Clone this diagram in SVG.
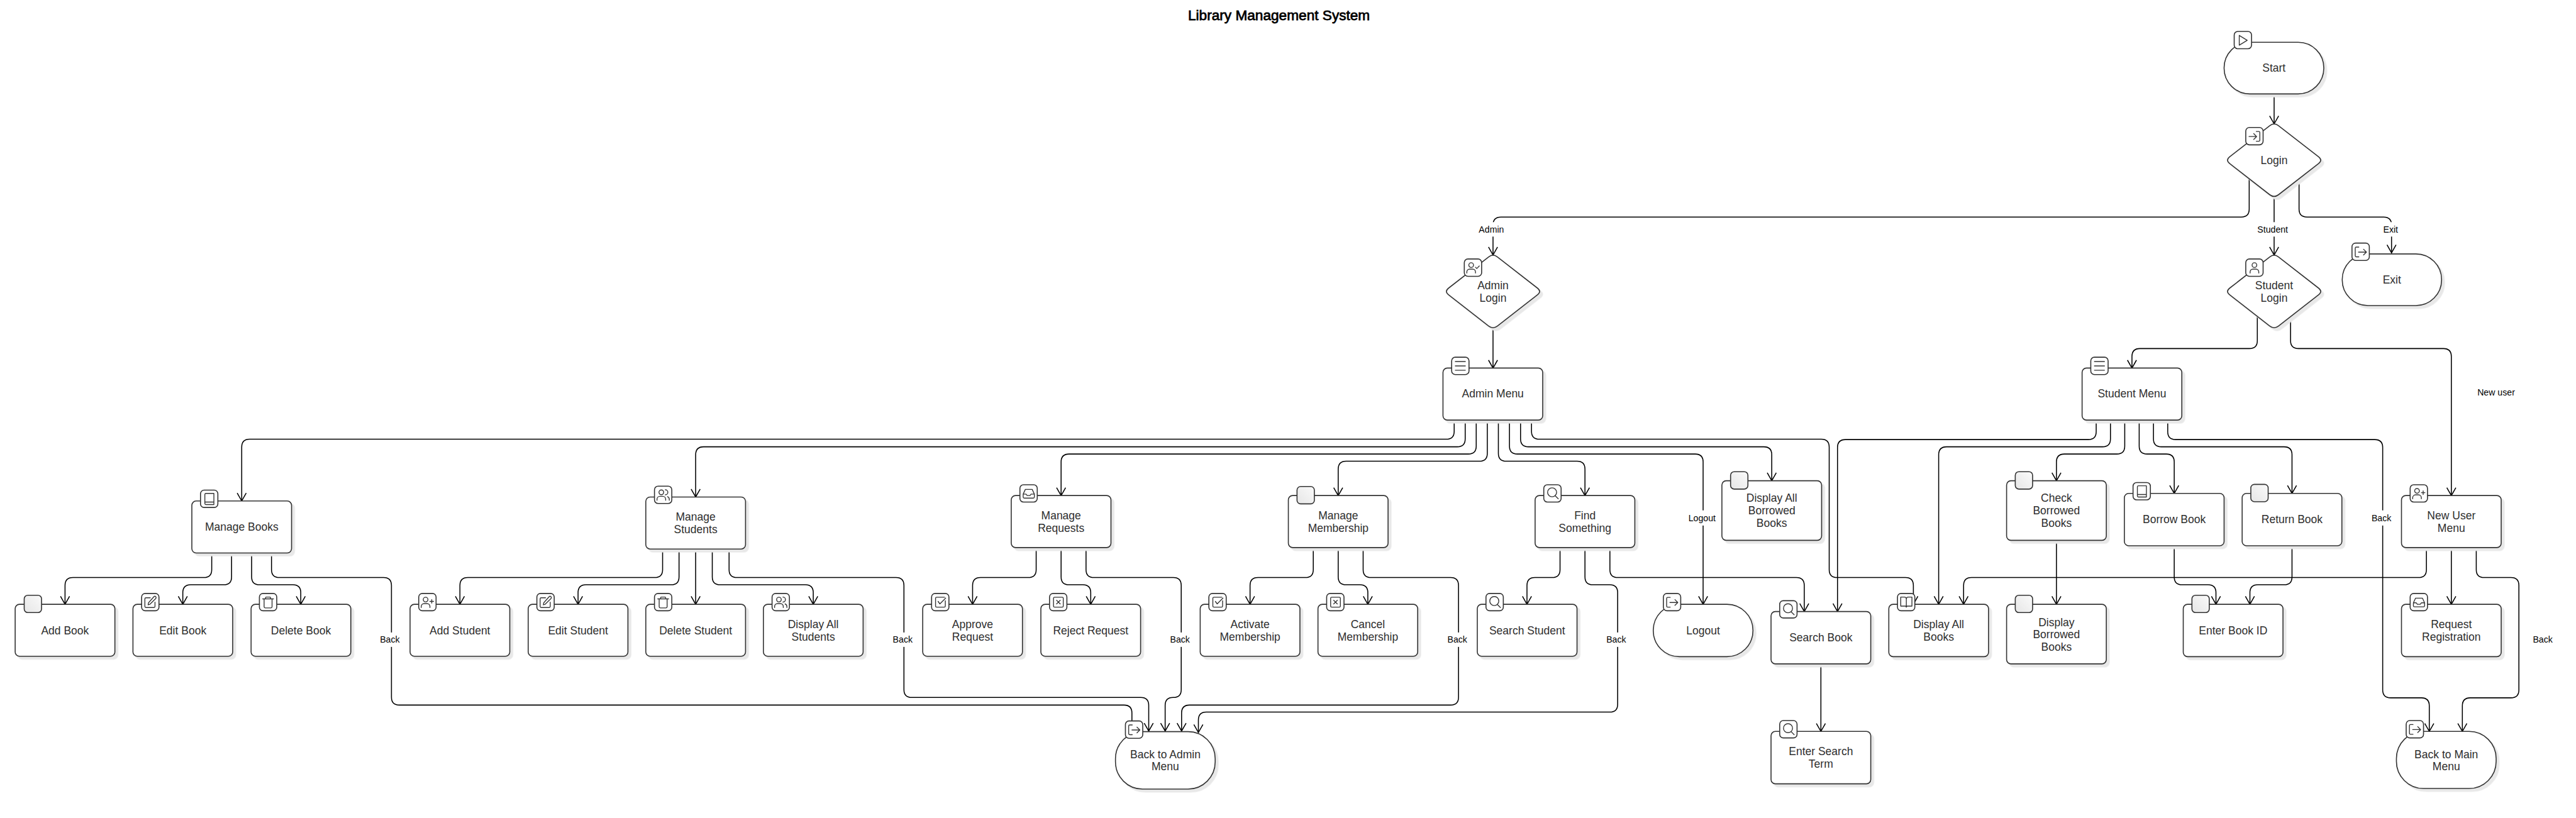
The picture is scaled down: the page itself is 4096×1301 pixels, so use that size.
<svg xmlns="http://www.w3.org/2000/svg" width="4096" height="1301" viewBox="0 0 4096 1301">
<style>
.bg{fill:#fff}
.n{fill:#fff;stroke:#333;stroke-width:2.8;filter:url(#sh)}
.t{font-family:"Liberation Sans",Arial,sans-serif;font-size:30.5px;fill:#2e2e2e;text-anchor:middle}
.l{font-family:"Liberation Sans",Arial,sans-serif;font-size:24.6px;fill:#000;text-anchor:middle}
.title{font-family:"Liberation Sans",Arial,sans-serif;font-size:39.4px;fill:#000;stroke:#000;stroke-width:1.4;text-anchor:middle}
.c path{fill:none;stroke:#000;stroke-width:2.7;marker-end:url(#ah)}
.ic{fill:none;stroke:#333;stroke-width:2.4;stroke-linecap:round;stroke-linejoin:round}
.bx{fill:#fff;stroke:#333;stroke-width:2.8}
.bk{fill:url(#gr);stroke:#333;stroke-width:2.8}
</style>
<defs>
<filter id="sh" x="-5%" y="-5%" width="115%" height="120%" color-interpolation-filters="sRGB"><feDropShadow dx="8" dy="8" stdDeviation="0" flood-color="#e8e8e8" flood-opacity="1"/></filter>
<marker id="ah" markerUnits="userSpaceOnUse" viewBox="-25 -16 28 32" refX="0" refY="0" markerWidth="28" markerHeight="32" orient="auto"><path d="M-22 -12.5 L0 0 L-22 12.5" fill="none" stroke="#000" stroke-width="2.7" style="marker-end:none"/></marker>
<linearGradient id="gr" x1="1" y1="0" x2="0" y2="1"><stop offset="0" stop-color="#fafafa"/><stop offset="1" stop-color="#e6e6e6"/></linearGradient>
<path id="dia" d="M-12 -95.7 Q0 -105 12 -95.7 L123 -9.3 Q135 0 123 9.3 L12 95.7 Q0 105 -12 95.7 L-123 9.3 Q-135 0 -123 -9.3 Z"/>
<rect id="bx" class="bx" width="48" height="48" rx="10"/>
<g id="i-blank"><rect class="bk" width="48" height="48" rx="10"/></g>
<g id="i-play"><use href="#bx"/><path class="ic" d="M14 11 L36 24.5 L14 38 Z"/></g>
<g id="i-login"><use href="#bx"/><path class="ic" d="M29 11 h7 a3 3 0 0 1 3 3 v21 a3 3 0 0 1 -3 3 h-7 M9 25 H30 M22 17 l8 8 -8 8"/></g>
<g id="i-logout"><use href="#bx"/><path class="ic" d="M19 11 h-7 a3 3 0 0 0 -3 3 v21 a3 3 0 0 0 3 3 h7 M18 25 H40 M32 17 l8 8 -8 8"/></g>
<g id="i-user"><use href="#bx"/><circle class="ic" cx="24" cy="17" r="6.5"/><path class="ic" d="M12 39 v-3 a8 8 0 0 1 8 -8 h8 a8 8 0 0 1 8 8 v3"/></g>
<g id="i-userck"><use href="#bx"/><circle class="ic" cx="19" cy="17" r="6.5"/><path class="ic" d="M7 39 v-3 a8 8 0 0 1 8 -8 h8 a8 8 0 0 1 8 8 v3 M31 23 l3.5 3.5 7 -7"/></g>
<g id="i-userpl"><use href="#bx"/><circle class="ic" cx="19" cy="17" r="6.5"/><path class="ic" d="M7 39 v-3 a8 8 0 0 1 8 -8 h8 a8 8 0 0 1 8 8 v3 M36 17 v10 M31 22 h10"/></g>
<g id="i-users"><use href="#bx"/><circle class="ic" cx="19" cy="17" r="6.5"/><path class="ic" d="M7 39 v-3 a8 8 0 0 1 8 -8 h8 a8 8 0 0 1 8 8 v3 M30 10 a7 7 0 0 1 0 14 M41 39 v-3 a8 8 0 0 0 -5 -7"/></g>
<g id="i-edit"><use href="#bx"/><path class="ic" d="M24 12 H12 a3 3 0 0 0 -3 3 V36 a3 3 0 0 0 3 3 H34 a3 3 0 0 0 3 -3 V24 M34 9 a3.5 3.5 0 0 1 5 5 L23 30 L18 31.5 L19 26 Z"/></g>
<g id="i-trash"><use href="#bx"/><path class="ic" d="M9 15 H39 M17 15 V12 a2 2 0 0 1 2 -2 h10 a2 2 0 0 1 2 2 v3 M13 15 V37 a3 3 0 0 0 3 3 h16 a3 3 0 0 0 3 -3 V15"/></g>
<g id="i-book"><use href="#bx"/><path class="ic" d="M15 9 H37 V40 H15 a3 3 0 0 1 -3 -3 V12 a3 3 0 0 1 3 -3 Z M12 33 H37"/></g>
<g id="i-open"><use href="#bx"/><path class="ic" d="M9 10 H19 a5.5 5.5 0 0 1 5.5 5.5 V38 l-2 -3 H9 Z M40 10 H30 a5.5 5.5 0 0 0 -5.5 5.5 V38 l2 -3 H40 Z"/></g>
<g id="i-menu"><use href="#bx"/><path class="ic" d="M10 12 H38 M10 24 H38 M10 36 H38"/></g>
<g id="i-search"><use href="#bx"/><circle class="ic" cx="23" cy="21" r="12.5"/><path class="ic" d="M32 31 L40 39"/></g>
<g id="i-inbox"><use href="#bx"/><path class="ic" d="M9 26 H17 l3 4 h8 l3 -4 H40 M15 13 H34 L40 26 V34 a3 3 0 0 1 -3 3 H12 a3 3 0 0 1 -3 -3 V26 Z"/></g>
<g id="i-check"><use href="#bx"/><path class="ic" d="M36 10.5 H14 a3 3 0 0 0 -3 3 V35 a3 3 0 0 0 3 3 H35 a3 3 0 0 0 3 -3 V20 M18 22 l5 7 L39 13"/></g>
<g id="i-x"><use href="#bx"/><path class="ic" d="M14 10.5 H35 a3 3 0 0 1 3 3 V35 a3 3 0 0 1 -3 3 H14 a3 3 0 0 1 -3 -3 V13.5 a3 3 0 0 1 3 -3 Z M19.5 19 l10 10 M29.5 19 l-10 10"/></g>
</defs>
<g transform="scale(0.57447)">
<text class="title" x="3540" y="56">Library Management System</text>
<g id="connectors" class="c">
<path d="M6294.5 260 V343"/>
<path d="M6225.5 480 V579 q0 22 -22 22 H4154.5 q-22 0 -22 22 V706"/>
<path d="M6294.5 500 V706"/>
<path d="M6363.5 480 V579 q0 22 22 22 H6597.5 q22 0 22 22 V700"/>
<path d="M6248 840 V943 q0 22 -22 22 H5923 q-22 0 -22 22 V1019"/>
<path d="M6340 840 V943 q0 22 22 22 H6763 q22 0 22 22 V1372"/>
<path d="M4132.5 850 V1019"/>
<path d="M4025 1100 V1194 q0 22 -22 22 H691 q-22 0 -22 22 V1387"/>
<path d="M4055.5 1100 V1215 q0 22 -22 22 H1947.5 q-22 0 -22 22 V1376"/>
<path d="M4086 1100 V1235 q0 22 -22 22 H2959 q-22 0 -22 22 V1372"/>
<path d="M4116.7 1100 V1255 q0 22 -22 22 H3726 q-22 0 -22 22 V1372"/>
<path d="M4147.3 1100 V1255 q0 22 22 22 H4365 q22 0 22 22 V1372"/>
<path d="M4178 1100 V1235 q0 22 22 22 H4692 q22 0 22 22 V1673"/>
<path d="M4208.7 1100 V1215 q0 22 22 22 H4882 q22 0 22 22 V1331"/>
<path d="M4239 1100 V1194 q0 22 22 22 H5041 q22 0 22 22 V1577 q0 22 22 22 H5274 q22 0 22 22 V1673"/>
<path d="M586 1500 V1577 q0 22 -22 22 H202 q-22 0 -22 22 V1673"/>
<path d="M641 1500 V1597 q0 22 -22 22 H528 q-22 0 -22 22 V1673"/>
<path d="M696.5 1500 V1597 q0 22 22 22 H810.5 q22 0 22 22 V1673"/>
<path d="M751.5 1500 V1577 q0 22 22 22 H1061.5 q22 0 22 22 V1930 q0 22 22 22 H3111 q22 0 22 22 V2024"/>
<path d="M1834 1500 V1577 q0 22 -22 22 H1295 q-22 0 -22 22 V1673"/>
<path d="M1879.5 1500 V1597 q0 22 -22 22 H1622 q-22 0 -22 22 V1673"/>
<path d="M1925.5 1500 V1673"/>
<path d="M1971.5 1500 V1597 q0 22 22 22 H2229 q22 0 22 22 V1673"/>
<path d="M2018 1500 V1577 q0 22 22 22 H2480 q22 0 22 22 V1909 q0 22 22 22 H3157.5 q22 0 22 22 V2024"/>
<path d="M2868 1500 V1577 q0 22 -22 22 H2714 q-22 0 -22 22 V1673"/>
<path d="M2937 1500 V1597 q0 22 22 22 H2997 q22 0 22 22 V1673"/>
<path d="M3006 1500 V1577 q0 22 22 22 H3247.5 q22 0 22 22 V1909 q0 22 -22 22 H3247 q-22 0 -22 22 V2024"/>
<path d="M3635 1500 V1577 q0 22 -22 22 H3482 q-22 0 -22 22 V1673"/>
<path d="M3704 1500 V1597 q0 22 22 22 H3764 q22 0 22 22 V1673"/>
<path d="M3773 1500 V1577 q0 22 22 22 H4015 q22 0 22 22 V1930 q0 22 -22 22 H3292.5 q-22 0 -22 22 V2024"/>
<path d="M4318 1500 V1577 q0 22 -22 22 H4248.5 q-22 0 -22 22 V1673"/>
<path d="M4387 1500 V1597 q0 22 22 22 H4455.5 q22 0 22 22 V1949.5 q0 22 -22 22 H3339 q-22 0 -22 22 V2028"/>
<path d="M4456 1500 V1577 q0 22 22 22 H4972 q22 0 22 22 V1693"/>
<path d="M5040 1830 V2025"/>
<path d="M5802 1100 V1195 q0 22 -22 22 H5108 q-22 0 -22 22 V1693"/>
<path d="M5841.5 1100 V1215 q0 22 -22 22 H5388 q-22 0 -22 22 V1673"/>
<path d="M5881 1100 V1235 q0 22 -22 22 H5714 q-22 0 -22 22 V1331"/>
<path d="M5921 1100 V1235 q0 22 22 22 H5996 q22 0 22 22 V1366"/>
<path d="M5960.5 1100 V1215 q0 22 22 22 H6322 q22 0 22 22 V1366"/>
<path d="M6000 1100 V1195 q0 22 22 22 H6573 q22 0 22 22 V1910 q0 22 22 22 H6702 q22 0 22 22 V2025"/>
<path d="M6716 1500 V1577 q0 22 -22 22 H5457 q-22 0 -22 22 V1673"/>
<path d="M6785 1500 V1673"/>
<path d="M6854 1500 V1577 q0 22 22 22 H6950 q22 0 22 22 V1910 q0 22 -22 22 H6837.5 q-22 0 -22 22 V2025"/>
<path d="M6018 1500 V1597 q0 22 22 22 H6111.5 q22 0 22 22 V1673"/>
<path d="M6344 1500 V1597 q0 22 -22 22 H6249.5 q-22 0 -22 22 V1673"/>
<path d="M5692 1490 V1673"/>
<rect class="bg" x="4089" y="615" width="78" height="40"/><text class="l" x="4128" y="643.5">Admin</text>
<rect class="bg" x="6244" y="615" width="93" height="40"/><text class="l" x="6290.5" y="644.5">Student</text>
<rect class="bg" x="6594" y="615" width="46" height="40"/><text class="l" x="6617" y="644.5">Exit</text>
<rect class="bg" x="4671" y="1413" width="80" height="42"/><text class="l" x="4711" y="1442.5">Logout</text>
<rect class="bg" x="1049" y="1751" width="60" height="40"/><text class="l" x="1079" y="1779.5">Back</text>
<rect class="bg" x="2468.5" y="1751" width="60" height="40"/><text class="l" x="2498.5" y="1779.5">Back</text>
<rect class="bg" x="3236" y="1751" width="60" height="40"/><text class="l" x="3266" y="1779.5">Back</text>
<rect class="bg" x="4003.7" y="1751" width="60" height="40"/><text class="l" x="4033.7" y="1779.5">Back</text>
<rect class="bg" x="4443.5" y="1751" width="60" height="40"/><text class="l" x="4473.5" y="1779.5">Back</text>
<rect class="bg" x="6561.5" y="1413" width="60" height="42"/><text class="l" x="6591.5" y="1442.5">Back</text>
<text class="l" x="6909" y="1095.5">New user</text>
<text class="l" x="7038" y="1779.5">Back</text>
</g>
<g id="start"><rect class="n" x="6156" y="117" width="276" height="143" rx="71"/><use href="#i-play" x="6184" y="87"/><text class="t" x="6294" y="199">Start</text></g>
<g id="login"><use class="n" href="#dia" x="6294.5" y="443.5"/><use href="#i-login" x="6216" y="353"/><text class="t" x="6294.5" y="455">Login</text></g>
<g id="student-login"><use class="n" href="#dia" x="6294.5" y="807"/><use href="#i-user" x="6216" y="717"/><text class="t" x="6294.5" y="801">Student</text><text class="t" x="6294.5" y="835">Login</text></g>
<g id="exit"><rect class="n" x="6483" y="703" width="275" height="143" rx="71"/><use href="#i-logout" x="6510" y="673"/><text class="t" x="6620.5" y="785">Exit</text></g>
<g id="admin-login"><use class="n" href="#dia" x="4132.5" y="807"/><use href="#i-userck" x="4053" y="717"/><text class="t" x="4132.5" y="801">Admin</text><text class="t" x="4132.5" y="835">Login</text></g>
<g id="admin-menu"><rect class="n" x="3994" y="1019" width="276" height="144" rx="12"/><use href="#i-menu" x="4018" y="989"/><text class="t" x="4132" y="1101">Admin Menu</text></g>
<g id="student-menu"><rect class="n" x="5763" y="1019" width="276" height="144" rx="12"/><use href="#i-menu" x="5787" y="989"/><text class="t" x="5901" y="1101">Student Menu</text></g>
<g id="manage-books"><rect class="n" x="531" y="1387" width="276" height="144" rx="12"/><use href="#i-book" x="555" y="1357"/><text class="t" x="669" y="1470">Manage Books</text></g>
<g id="add-book"><rect class="n" x="42" y="1673" width="276" height="144" rx="12"/><use href="#i-blank" x="67" y="1648"/><text class="t" x="180" y="1756">Add Book</text></g>
<g id="edit-book"><rect class="n" x="368" y="1673" width="276" height="144" rx="12"/><use href="#i-edit" x="392" y="1643"/><text class="t" x="506" y="1756">Edit Book</text></g>
<g id="delete-book"><rect class="n" x="695" y="1673" width="276" height="144" rx="12"/><use href="#i-trash" x="718" y="1643"/><text class="t" x="833" y="1756">Delete Book</text></g>
<g id="manage-students"><rect class="n" x="1787.5" y="1376" width="276" height="144" rx="12"/><use href="#i-users" x="1811.5" y="1346"/><text class="t" x="1925.5" y="1442">Manage</text><text class="t" x="1925.5" y="1476">Students</text></g>
<g id="add-student"><rect class="n" x="1135" y="1673" width="276" height="144" rx="12"/><use href="#i-userpl" x="1159" y="1643"/><text class="t" x="1273" y="1756">Add Student</text></g>
<g id="edit-student"><rect class="n" x="1462" y="1673" width="276" height="144" rx="12"/><use href="#i-edit" x="1486" y="1643"/><text class="t" x="1600" y="1756">Edit Student</text></g>
<g id="delete-student"><rect class="n" x="1787.5" y="1673" width="276" height="144" rx="12"/><use href="#i-trash" x="1811.5" y="1643"/><text class="t" x="1925.5" y="1756">Delete Student</text></g>
<g id="display-students"><rect class="n" x="2113" y="1673" width="276" height="144" rx="12"/><use href="#i-users" x="2137" y="1643"/><text class="t" x="2251" y="1739">Display All</text><text class="t" x="2251" y="1773">Students</text></g>
<g id="manage-requests"><rect class="n" x="2799" y="1372" width="276" height="144" rx="12"/><use href="#i-inbox" x="2823" y="1342"/><text class="t" x="2937" y="1438">Manage</text><text class="t" x="2937" y="1472">Requests</text></g>
<g id="approve-request"><rect class="n" x="2554" y="1673" width="276" height="144" rx="12"/><use href="#i-check" x="2578.5" y="1643"/><text class="t" x="2692" y="1739">Approve</text><text class="t" x="2692" y="1773">Request</text></g>
<g id="reject-request"><rect class="n" x="2881" y="1673" width="276" height="144" rx="12"/><use href="#i-x" x="2905" y="1643"/><text class="t" x="3019" y="1756">Reject Request</text></g>
<g id="manage-membership"><rect class="n" x="3566" y="1372" width="276" height="144" rx="12"/><use href="#i-blank" x="3590" y="1347"/><text class="t" x="3704" y="1438">Manage</text><text class="t" x="3704" y="1472">Membership</text></g>
<g id="activate-membership"><rect class="n" x="3322" y="1673" width="276" height="144" rx="12"/><use href="#i-check" x="3346" y="1643"/><text class="t" x="3460" y="1739">Activate</text><text class="t" x="3460" y="1773">Membership</text></g>
<g id="cancel-membership"><rect class="n" x="3648" y="1673" width="276" height="144" rx="12"/><use href="#i-x" x="3672" y="1643"/><text class="t" x="3786" y="1739">Cancel</text><text class="t" x="3786" y="1773">Membership</text></g>
<g id="find-something"><rect class="n" x="4249" y="1372" width="276" height="144" rx="12"/><use href="#i-search" x="4273" y="1342"/><text class="t" x="4387" y="1438">Find</text><text class="t" x="4387" y="1472">Something</text></g>
<g id="search-student"><rect class="n" x="4089" y="1673" width="276" height="144" rx="12"/><use href="#i-search" x="4113" y="1643"/><text class="t" x="4227" y="1756">Search Student</text></g>
<g id="logout"><rect class="n" x="4576" y="1673" width="276" height="145" rx="72"/><use href="#i-logout" x="4604" y="1643"/><text class="t" x="4714" y="1756">Logout</text></g>
<g id="display-all-borrowed"><rect class="n" x="4766" y="1331" width="276" height="165" rx="12"/><use href="#i-blank" x="4790" y="1306"/><text class="t" x="4904" y="1390">Display All</text><text class="t" x="4904" y="1424">Borrowed</text><text class="t" x="4904" y="1458">Books</text></g>
<g id="search-book"><rect class="n" x="4902" y="1693" width="276" height="145" rx="12"/><use href="#i-search" x="4926" y="1663"/><text class="t" x="5040" y="1776">Search Book</text></g>
<g id="enter-search-term"><rect class="n" x="4902" y="2025" width="276" height="145" rx="12"/><use href="#i-search" x="4926" y="1995"/><text class="t" x="5040" y="2091">Enter Search</text><text class="t" x="5040" y="2125">Term</text></g>
<g id="display-all-books"><rect class="n" x="5228" y="1673" width="276" height="145" rx="12"/><use href="#i-open" x="5252" y="1643"/><text class="t" x="5366" y="1739">Display All</text><text class="t" x="5366" y="1773">Books</text></g>
<g id="check-borrowed"><rect class="n" x="5554" y="1331" width="276" height="165" rx="12"/><use href="#i-blank" x="5578" y="1306"/><text class="t" x="5692" y="1390">Check</text><text class="t" x="5692" y="1424">Borrowed</text><text class="t" x="5692" y="1458">Books</text></g>
<g id="display-borrowed"><rect class="n" x="5554" y="1673" width="276" height="165" rx="12"/><use href="#i-blank" x="5578" y="1648"/><text class="t" x="5692" y="1733">Display</text><text class="t" x="5692" y="1767">Borrowed</text><text class="t" x="5692" y="1801">Books</text></g>
<g id="borrow-book"><rect class="n" x="5880" y="1366" width="276" height="145" rx="12"/><use href="#i-book" x="5904" y="1336"/><text class="t" x="6018" y="1448">Borrow Book</text></g>
<g id="return-book"><rect class="n" x="6206" y="1366" width="276" height="145" rx="12"/><use href="#i-blank" x="6230" y="1341"/><text class="t" x="6344" y="1448">Return Book</text></g>
<g id="new-user-menu"><rect class="n" x="6647" y="1372" width="276" height="144" rx="12"/><use href="#i-userpl" x="6671" y="1342"/><text class="t" x="6785" y="1438">New User</text><text class="t" x="6785" y="1472">Menu</text></g>
<g id="enter-book-id"><rect class="n" x="6043" y="1673" width="276" height="145" rx="12"/><use href="#i-blank" x="6067" y="1648"/><text class="t" x="6181" y="1756">Enter Book ID</text></g>
<g id="request-registration"><rect class="n" x="6647" y="1673" width="276" height="145" rx="12"/><use href="#i-inbox" x="6671" y="1643"/><text class="t" x="6785" y="1739">Request</text><text class="t" x="6785" y="1773">Registration</text></g>
<g id="back-to-main"><rect class="n" x="6633" y="2025" width="276" height="158" rx="75"/><use href="#i-logout" x="6660" y="1995"/><text class="t" x="6771" y="2099">Back to Main</text><text class="t" x="6771" y="2133">Menu</text></g>
<g id="back-to-admin"><rect class="n" x="3087.5" y="2025.5" width="276" height="159" rx="75"/><use href="#i-logout" x="3115" y="1996"/><text class="t" x="3225.5" y="2099">Back to Admin</text><text class="t" x="3225.5" y="2133">Menu</text></g>
</g>
</svg>
